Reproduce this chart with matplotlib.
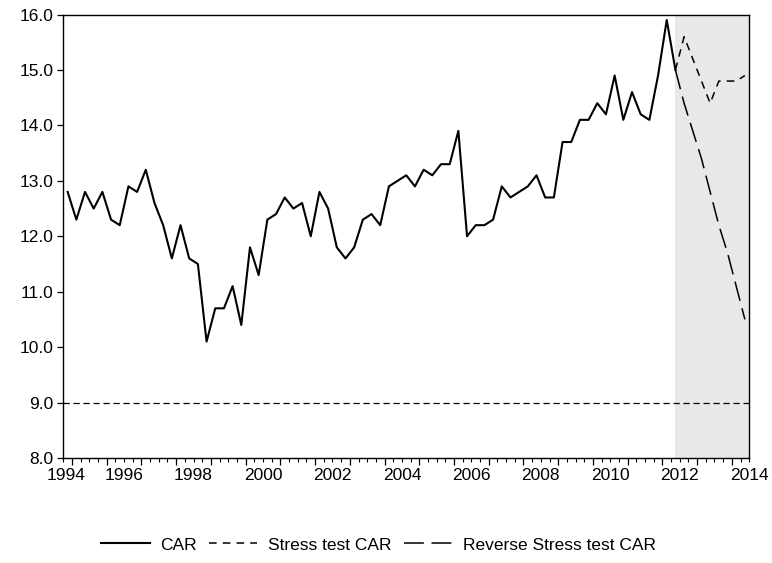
import numpy as np
import pandas as pd
import matplotlib
matplotlib.use("Agg")
import matplotlib.pyplot as plt
from matplotlib.ticker import MultipleLocator

plt.rcParams['font.family'] = ['Liberation Sans', 'DejaVu Sans']

# CAR trimestral, 1994Q4 .. 2012Q2
car = [12.8, 12.3, 12.8, 12.5, 12.8, 12.3, 12.2, 12.9, 12.8, 13.2,
       12.6, 12.2, 11.6, 12.2, 11.6, 11.5, 10.1, 10.7, 10.7, 11.1,
       10.4, 11.8, 11.3, 12.3, 12.4, 12.7, 12.5, 12.6, 12.0, 12.8,
       12.5, 11.8, 11.6, 11.8, 12.3, 12.4, 12.2, 12.9, 13.0, 13.1,
       12.9, 13.2, 13.1, 13.3, 13.3, 13.9, 12.0, 12.2, 12.2, 12.3,
       12.9, 12.7, 12.8, 12.9, 13.1, 12.7, 12.7, 13.7, 13.7, 14.1,
       14.1, 14.4, 14.2, 14.9, 14.1, 14.6, 14.2, 14.1, 14.9, 15.9, 15.0]
# cenarios 2012Q2 .. 2014Q2
stress = [15.0, 15.6, 15.2, 14.8, 14.4, 14.8, 14.8, 14.8, 14.9]
reverse = [15.0, 14.4, 13.9, 13.4, 12.8, 12.2, 11.7, 11.1, 10.5]
minimo = 9.0

inicio = "1994Q4"
fim = "2014Q2"
anos_rotulo = list(range(1994, 2015, 2))

trimestres = pd.period_range(inicio, fim, freq="Q")
t = np.array([p.year + (p.quarter - 1) / 4 + 0.125 for p in trimestres])
t_car = t[:len(car)]
t_cen = t[len(car) - 1:]

fig = plt.figure(figsize=(7.72, 5.63), dpi=100)
ax = fig.add_axes([0.082, 0.1865, 0.8885, 0.7877])

x0 = t[0] - 0.125
x1 = t[-1] + 0.125
ax.axvspan(t_cen[0], x1, color="#e8e8e8", lw=0, zorder=0)

ax.plot(t_car, car, color="black", lw=1.5, label="CAR", zorder=3)
ax.plot(t_cen, stress, color="black", lw=1.1, dashes=(5, 4), label="Stress test CAR", zorder=3)
ax.plot(t_cen, reverse, color="black", lw=1.1, dashes=(13, 5), label="Reverse Stress test CAR", zorder=3)
ax.axhline(minimo, color="black", lw=0.9, dashes=(5, 3), zorder=2)

ax.set_xlim(x0, x1)
ax.set_ylim(8, 16)
ax.yaxis.set_major_locator(MultipleLocator(1))
ax.yaxis.set_major_formatter(matplotlib.ticker.FormatStrFormatter("%.1f"))

# ticks de ano (sem rotulo) + trimestres
ax.set_xticks(np.arange(1995, 2015), labels=[])
ax.xaxis.set_minor_locator(MultipleLocator(0.25))
ax.tick_params(axis="x", which="major", length=5, width=0.9, direction="out")
ax.tick_params(axis="x", which="minor", length=3, width=0.8, direction="out")
ax.tick_params(axis="y", length=4, width=0.9, direction="out", labelsize=12.5, pad=3)
ax.tick_params(top=False, right=False)

# rotulos dos anos no meio de cada ano
sec = ax.secondary_xaxis("bottom")
pos = [max(a + 0.5, x0 + 0.08) for a in anos_rotulo]
sec.set_xticks(pos, labels=[str(a) for a in anos_rotulo])
sec.tick_params(length=0, pad=7, labelsize=12.5)
sec.spines["bottom"].set_visible(False)

for s in ax.spines.values():
    s.set_linewidth(1.0)

fig.legend(loc="center", bbox_to_anchor=(0.49, 0.032), ncol=3, frameon=False,
           fontsize=12.5, handlelength=2.8, columnspacing=0.7, handletextpad=0.6)

plt.savefig("out.png", dpi=100)
